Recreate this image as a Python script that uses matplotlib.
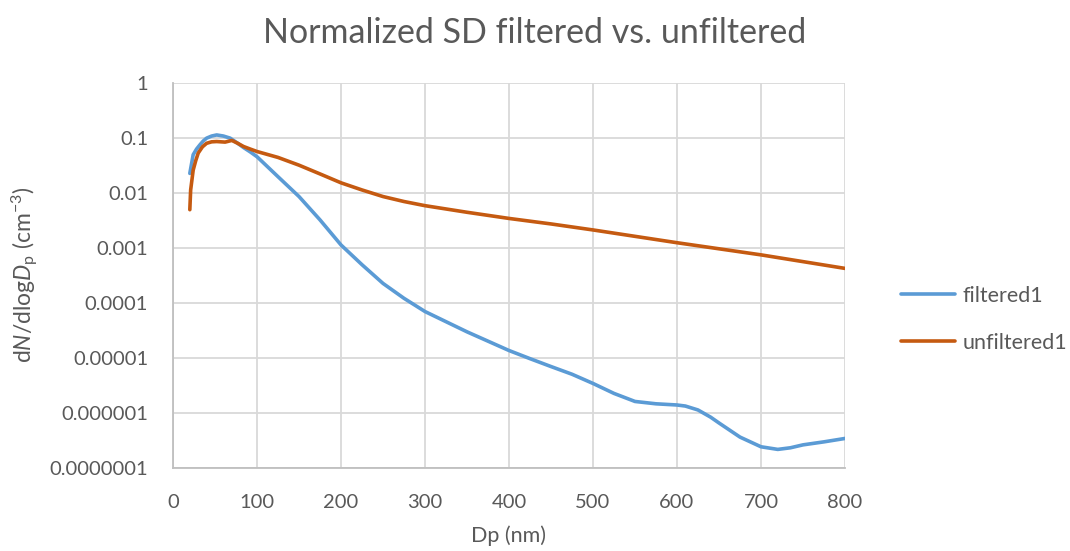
import matplotlib
matplotlib.use("Agg")
import matplotlib.pyplot as plt

# filtered1 series (Dp in nm, dN/dlogDp normalized)
dp_filtered = [20, 24, 28, 32, 36, 40, 46, 52, 60, 68, 76, 84, 92, 100, 125, 150, 175,
               200, 225, 250, 275, 300, 350, 400, 425, 450, 475, 500, 525, 550, 575,
               600, 610, 625, 640, 650, 675, 700, 720, 735, 750, 775, 800]
sd_filtered = [0.0224, 0.049, 0.062, 0.074, 0.087, 0.098, 0.107, 0.112, 0.107, 0.098,
               0.081, 0.066, 0.055, 0.045, 0.0195, 0.0085, 0.0032, 0.00112, 0.00049,
               0.000224, 0.00012, 6.9e-5, 2.95e-5, 1.35e-5, 9.6e-6, 6.9e-6, 5.0e-6,
               3.4e-6, 2.24e-6, 1.6e-6, 1.45e-6, 1.38e-6, 1.32e-6, 1.12e-6, 8.3e-7,
               6.5e-7, 3.6e-7, 2.4e-7, 2.15e-7, 2.3e-7, 2.6e-7, 2.95e-7, 3.4e-7]

# unfiltered1 series
dp_unfiltered = [20, 21, 24, 27, 30, 35, 40, 46, 52, 62, 70, 77, 84, 92, 100, 125, 150,
                 175, 200, 225, 250, 275, 300, 350, 400, 450, 500, 600, 700, 800]
sd_unfiltered = [0.0049, 0.0112, 0.0257, 0.038, 0.0525, 0.068, 0.079, 0.084, 0.085,
                 0.083, 0.089, 0.079, 0.069, 0.062, 0.056, 0.0437, 0.0316, 0.0219,
                 0.0151, 0.0112, 0.0085, 0.0069, 0.0058, 0.0044, 0.0034, 0.0027,
                 0.0021, 0.00123, 0.00074, 0.00042]

y_ticks = [1, 0.1, 0.01, 0.001, 0.0001, 0.00001, 0.000001, 0.0000001]
y_tick_labels = ["1", "0.1", "0.01", "0.001", "0.0001", "0.00001", "0.000001", "0.0000001"]
x_ticks = [0, 100, 200, 300, 400, 500, 600, 700, 800]

text_color = "#595959"
plt.rcParams["font.family"] = ["Lato", "DejaVu Sans"]
plt.rcParams["mathtext.fontset"] = "custom"
plt.rcParams["mathtext.rm"] = "Lato"
plt.rcParams["mathtext.it"] = "Lato:italic"

fig = plt.figure(figsize=(10.7, 5.51), dpi=100)
ax = fig.add_axes([0.1617, 0.1512, 0.628, 0.6988])

ax.plot(dp_filtered, sd_filtered, color="#5b9bd5", lw=2.6, label="filtered1",
        solid_capstyle="round", solid_joinstyle="round")
ax.plot(dp_unfiltered, sd_unfiltered, color="#c55a11", lw=2.6, label="unfiltered1",
        solid_capstyle="round", solid_joinstyle="round")

ax.set_yscale("log")
ax.set_ylim(1e-7, 1)
ax.set_xlim(0, 800)
ax.set_yticks(y_ticks)
ax.set_yticklabels(y_tick_labels)
ax.minorticks_off()
ax.set_xticks(x_ticks)
ax.tick_params(length=0, labelsize=14.5, colors=text_color)
ax.tick_params(axis="y", pad=18)
ax.tick_params(axis="x", pad=19)

ax.grid(True, color="#d9d9d9", lw=1.3)
ax.set_axisbelow(True)
for side in ["top", "right"]:
    ax.spines[side].set_visible(False)
for side in ["left", "bottom"]:
    ax.spines[side].set_color("#bfbfbf")
    ax.spines[side].set_linewidth(1.3)

ax.set_xlabel("Dp (nm)", fontsize=15.5, color=text_color, labelpad=10)
ax.set_ylabel(r"d$N$/dlog$D_\mathrm{p}$ (cm$^{-3}$)", fontsize=16.5, color=text_color, labelpad=6)
fig.suptitle("Normalized SD filtered vs. unfiltered", fontsize=24.5, color=text_color,
             x=0.5, y=0.97)

leg = ax.legend(loc="center left", bbox_to_anchor=(1.055, 0.386), frameon=False,
                fontsize=15.5, labelcolor=text_color, handlelength=2.5,
                labelspacing=1.25, handletextpad=0.35)

fig.savefig("out.png", dpi=100)
